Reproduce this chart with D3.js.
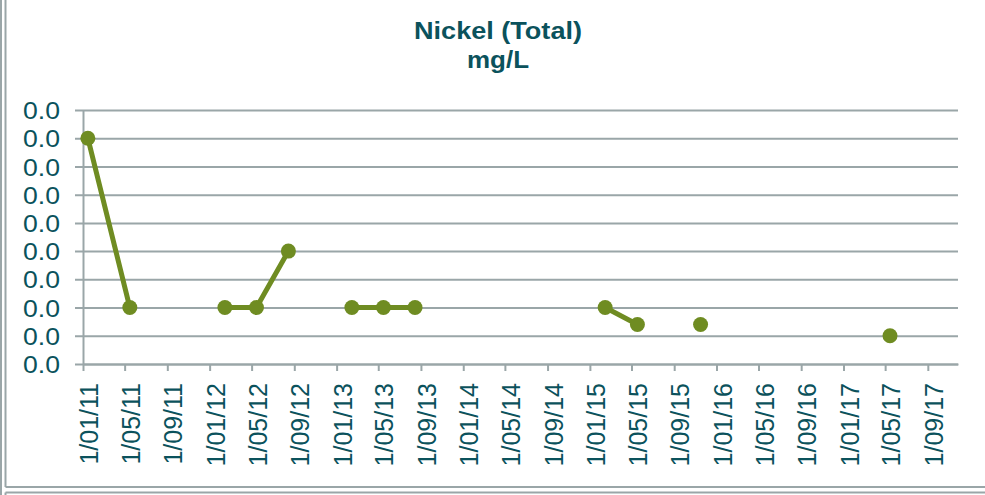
<!DOCTYPE html>
<html>
<head>
<meta charset="utf-8">
<script src="https://cdn.jsdelivr.net/npm/d3@7"></script>
<style>
  html, body { margin: 0; padding: 0; background: #ffffff; }
  svg { display: block; }
</style>
</head>
<body>
<svg id="chart" width="985" height="495"></svg>
<script>
// Sample dates and measured nickel (total) in mg/L; null = no result (breaks the line)
const sampleDates = [
  "2011-01-15", "2011-05-16", "2011-09-15",
  "2012-02-14", "2012-05-15", "2012-08-15", "2012-11-15",
  "2013-02-14", "2013-05-16", "2013-08-15", "2014-06-15",
  "2015-02-14", "2015-05-18", "2015-08-17", "2015-11-16",
  "2016-08-15", "2017-05-15"
];
const nickel = [
  0.008, 0.002, null,
  0.002, 0.002, 0.004, null,
  0.002, 0.002, 0.002, null,
  0.002, 0.0014, null, 0.0014,
  null, 0.001
];
const yTicks = [0, 0.001, 0.002, 0.003, 0.004, 0.005, 0.006, 0.007, 0.008, 0.009];
const xStart = "2011-01-01";
const xEnd = "2017-11-27";
const titleLines = ["Nickel (Total)", "mg/L"];

const teal = "#0b525c";
const grid = "#9aa6a8";
const green = "#6f8c22";
const parse = d3.utcParse("%Y-%m-%d");

const data = sampleDates.map((d, i) => ({ date: parse(d), value: nickel[i] }));

const svg = d3.select("#chart");
const plotLeft = 83, plotRight = 958, plotTop = 110, plotBottom = 364;

const x = d3.scaleUtc().domain([parse(xStart), parse(xEnd)]).range([plotLeft, plotRight]);
const y = d3.scaleLinear().domain([0, 0.009]).range([plotBottom, plotTop]);

// Frame lines of the report panel
const frame = svg.append("g").attr("stroke", grid).attr("stroke-width", 2).attr("fill", "none");
frame.append("line").attr("x1", 1).attr("x2", 1).attr("y1", 0).attr("y2", 495);
frame.append("line").attr("x1", 5.5).attr("x2", 5.5).attr("y1", 0).attr("y2", 487);
frame.append("line").attr("x1", 5.5).attr("x2", 985).attr("y1", 487).attr("y2", 487);
frame.append("line").attr("x1", 5.5).attr("x2", 985).attr("y1", 492.5).attr("y2", 492.5);
frame.append("line").attr("x1", 5.5).attr("x2", 5.5).attr("y1", 492.5).attr("y2", 495);

// Title
svg.append("g").selectAll("text").data(titleLines).join("text")
  .attr("x", 498).attr("y", (d, i) => 39 + i * 29)
  .attr("text-anchor", "middle")
  .attr("font-family", "Liberation Sans, Arial, sans-serif")
  .attr("font-weight", "bold").attr("font-size", 24)
  .attr("fill", teal)
  .attr("textLength", (d, i) => i === 0 ? 168 : 62)
  .attr("lengthAdjust", "spacingAndGlyphs")
  .text(d => d);

// Y axis with horizontal gridlines
const yAxis = svg.append("g")
  .attr("transform", `translate(${plotLeft},0)`)
  .call(d3.axisLeft(y).tickValues(yTicks).tickFormat(d3.format(".1f"))
    .tickSize(8).tickSizeOuter(0).tickPadding(0));
yAxis.select(".domain").attr("stroke", grid).attr("stroke-width", 2);
yAxis.selectAll(".tick line").attr("stroke", grid).attr("stroke-width", 2)
  .attr("x1", -8).attr("x2", plotRight - plotLeft);
yAxis.selectAll(".tick text")
  .attr("x", -23).attr("dy", "0.36em")
  .attr("font-family", "Liberation Sans, Arial, sans-serif")
  .attr("font-size", 24).attr("fill", teal)
  .attr("textLength", 37).attr("lengthAdjust", "spacingAndGlyphs");

// X axis: ticks every four months, labels rotated
const xTickDates = d3.utcMonth.every(4).range(parse(xStart), parse("2017-09-02"));
const xAxis = svg.append("g")
  .attr("transform", `translate(0,${plotBottom})`)
  .call(d3.axisBottom(x).tickValues(xTickDates).tickFormat(d3.utcFormat("1/%m/%y"))
    .tickSize(7).tickSizeOuter(0));
xAxis.select(".domain").attr("stroke", grid).attr("stroke-width", 2);
xAxis.selectAll(".tick line").attr("stroke", grid).attr("stroke-width", 2);
xAxis.selectAll(".tick text")
  .attr("transform", "rotate(-90)")
  .attr("text-anchor", "end")
  .attr("x", -19).attr("y", 0).attr("dy", 14.5)
  .attr("font-family", "Liberation Sans, Arial, sans-serif")
  .attr("font-size", 25).attr("fill", teal);

// Series line (gaps where no result) and markers
const line = d3.line()
  .defined(d => d.value !== null)
  .x(d => x(d.date)).y(d => y(d.value));
svg.append("path").datum(data)
  .attr("fill", "none").attr("stroke", green)
  .attr("stroke-width", 5).attr("stroke-linejoin", "round")
  .attr("d", line);
svg.append("g").selectAll("circle")
  .data(data.filter(d => d.value !== null)).join("circle")
  .attr("cx", d => x(d.date)).attr("cy", d => y(d.value))
  .attr("r", 7.5).attr("fill", green);
</script>
</body>
</html>
